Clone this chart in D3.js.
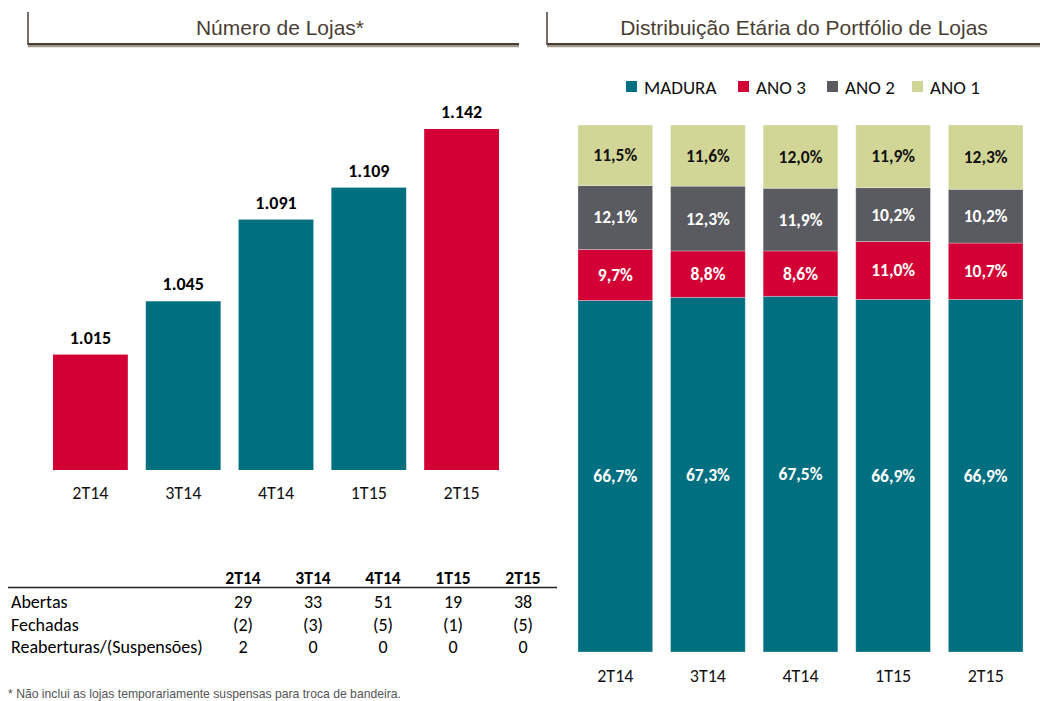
<!DOCTYPE html>
<html>
<head>
<meta charset="utf-8">
<script src="https://cdn.jsdelivr.net/npm/d3@7"></script>
<style>
  body { margin: 0; background: #fff; }
  svg { display: block; }
</style>
</head>
<body>
<svg id="chart" width="1040" height="701"></svg>
<script>
// dados
const quarters = ['2T14', '3T14', '4T14', '1T15', '2T15'];
const lojas = [1015, 1045, 1091, 1109, 1142];

const madura = [66.7, 67.3, 67.5, 66.9, 66.9];
const ano3 = [9.7, 8.8, 8.6, 11.0, 10.7];
const ano2 = [12.1, 12.3, 11.9, 10.2, 10.2];
const ano1 = [11.5, 11.6, 12.0, 11.9, 12.3];
const seriesNames = ['MADURA', 'ANO 3', 'ANO 2', 'ANO 1'];

const abertas = [29, 33, 51, 19, 38];
const fechadas = [-2, -3, -5, -1, -5];
const reaberturas = [2, 0, 0, 0, 0];
const rowLabels = ['Abertas', 'Fechadas', 'Reaberturas/(Suspensões)'];

const teal = '#007080';
const red = '#d20035';
const gray = '#5a5b60';
const lime = '#d1d697';
const brown = '#4a3e34';
const calibri = "Carlito, Calibri, Lato, sans-serif";
const arial = "'Liberation Sans', Arial, sans-serif";

const svg = d3.select('#chart');

// cabeçalhos
function drawHeader(x1, x2, cx, title) {
    const g = svg.append('g');
    g.append('line').attr('x1', x1).attr('x2', x1).attr('y1', 12).attr('y2', 45)
        .style('stroke', brown).style('stroke-width', 1.5);
    g.append('line').attr('x1', x1).attr('x2', x2).attr('y1', 46.5).attr('y2', 46.5)
        .style('stroke', '#a89a8c').style('stroke-width', 1.5);
    g.append('line').attr('x1', x1).attr('x2', x2).attr('y1', 44.3).attr('y2', 44.3)
        .style('stroke', brown).style('stroke-width', 2.4);
    g.append('text').attr('x', cx).attr('y', 35)
        .attr('text-anchor', 'middle')
        .style('font-family', arial).style('font-size', '21px').style('fill', brown)
        .text(title);
}
drawHeader(28, 519, 280, 'Número de Lojas*');
drawHeader(547, 1040, 804, 'Distribuição Etária do Portfólio de Lojas');

// grafico de barras (esquerda)
const x = d3.scaleBand().domain(quarters).range([44, 508]).paddingInner(0.1935).paddingOuter(0.0968);
const y = d3.scaleLinear().domain([950, 1142]).range([470, 129]);

const left = svg.append('g');
left.selectAll('rect').data(quarters).enter().append('rect')
    .attr('x', d => x(d))
    .attr('width', x.bandwidth())
    .attr('y', (d, i) => y(lojas[i]))
    .attr('height', (d, i) => y(950) - y(lojas[i]))
    .style('fill', d => d.startsWith('2T') ? red : teal);

left.selectAll('text.val').data(quarters).enter().append('text')
    .attr('class', 'val')
    .attr('x', d => x(d) + x.bandwidth() / 2)
    .attr('y', (d, i) => y(lojas[i]) - 11)
    .attr('text-anchor', 'middle')
    .style('font-family', calibri).style('font-weight', 'bold').style('font-size', '18px')
    .text((d, i) => d3.format(',')(lojas[i]).replace(/,/g, '.'));

const xAxisL = left.append('g').attr('transform', 'translate(0,470)')
    .call(d3.axisBottom(x).tickSize(0).tickPadding(16));
xAxisL.select('.domain').remove();
xAxisL.selectAll('text').style('font-family', calibri).style('font-size', '18px').style('fill', '#111');

// tabela
const colX = d3.scalePoint().domain(quarters).range([243, 523]);
const table = svg.append('g');
table.selectAll('text.head').data(quarters).enter().append('text')
    .attr('class', 'head')
    .attr('x', d => colX(d)).attr('y', 584)
    .attr('text-anchor', 'middle')
    .style('font-family', calibri).style('font-weight', 'bold').style('font-size', '17.5px')
    .text(d => d);
table.append('line').attr('x1', 8).attr('x2', 557).attr('y1', 587.5).attr('y2', 587.5)
    .style('stroke', '#222').style('stroke-width', 1.3);

const fmtCell = v => v < 0 ? '(' + (-v) + ')' : String(v);
[abertas, fechadas, reaberturas].forEach((row, r) => {
    const ry = 608 + r * 22.5;
    table.append('text').attr('x', 11).attr('y', ry)
        .style('font-family', calibri).style('font-size', '18px')
        .text(rowLabels[r]);
    table.selectAll('text.r' + r).data(row).enter().append('text')
        .attr('class', 'r' + r)
        .attr('x', (d, i) => colX(quarters[i])).attr('y', ry)
        .attr('text-anchor', 'middle')
        .style('font-family', calibri).style('font-size', '18px')
        .text(d => fmtCell(d));
});

svg.append('text').attr('x', 8).attr('y', 698)
    .style('font-family', arial).style('font-size', '12.2px').style('fill', '#555')
    .text('* Não inclui as lojas temporariamente suspensas para troca de bandeira.');

// grafico empilhado (direita)
const stackData = quarters.map((q, i) => ({
    q: q, 'MADURA': madura[i], 'ANO 3': ano3[i], 'ANO 2': ano2[i], 'ANO 1': ano1[i]
}));
const stacked = d3.stack().keys(seriesNames)(stackData);
const color = d3.scaleOrdinal().domain(seriesNames).range([teal, red, gray, lime]);

const x2 = d3.scaleBand().domain(quarters).range([569, 1032]).paddingInner(0.1935).paddingOuter(0.0968);
const y2 = d3.scaleLinear().domain([0, 100]).range([652, 125]);

const right = svg.append('g');
const layers = right.selectAll('g.layer').data(stacked).enter().append('g')
    .attr('class', 'layer')
    .style('fill', d => color(d.key));

layers.selectAll('rect').data(d => d).enter().append('rect')
    .attr('x', d => x2(d.data.q))
    .attr('width', x2.bandwidth())
    .attr('y', d => y2(Math.min(d[1], 100)))
    .attr('height', d => y2(d[0]) - y2(Math.min(d[1], 100)))
    .style('stroke', 'rgba(255,255,255,0.35)').style('stroke-width', 0.8);

const fmtPct = v => v.toFixed(1).replace('.', ',') + '%';
stacked.forEach(layer => {
    right.selectAll('text.l' + layer.index).data(layer).enter().append('text')
        .attr('x', d => x2(d.data.q) + x2.bandwidth() / 2)
        .attr('y', d => (y2(d[0]) + y2(Math.min(d[1], 100))) / 2 + 6)
        .attr('text-anchor', 'middle')
        .style('font-family', calibri).style('font-weight', 'bold').style('font-size', '17.5px')
        .style('fill', layer.key === 'ANO 1' ? '#111' : '#fff')
        .text(d => fmtPct(d.data[layer.key]));
});

const xAxisR = right.append('g').attr('transform', 'translate(0,652)')
    .call(d3.axisBottom(x2).tickSize(0).tickPadding(17));
xAxisR.select('.domain').remove();
xAxisR.selectAll('text').style('font-family', calibri).style('font-size', '18px').style('fill', '#111');

// legenda
const legendX = [626, 738, 827, 912];
const legend = svg.append('g');
seriesNames.forEach((name, i) => {
    legend.append('rect').attr('x', legendX[i]).attr('y', 81).attr('width', 11).attr('height', 11)
        .style('fill', color(name));
    legend.append('text').attr('x', legendX[i] + 18).attr('y', 94)
        .style('font-family', calibri).style('font-size', '19px').style('fill', '#111')
        .text(name);
});
</script>
</body>
</html>
